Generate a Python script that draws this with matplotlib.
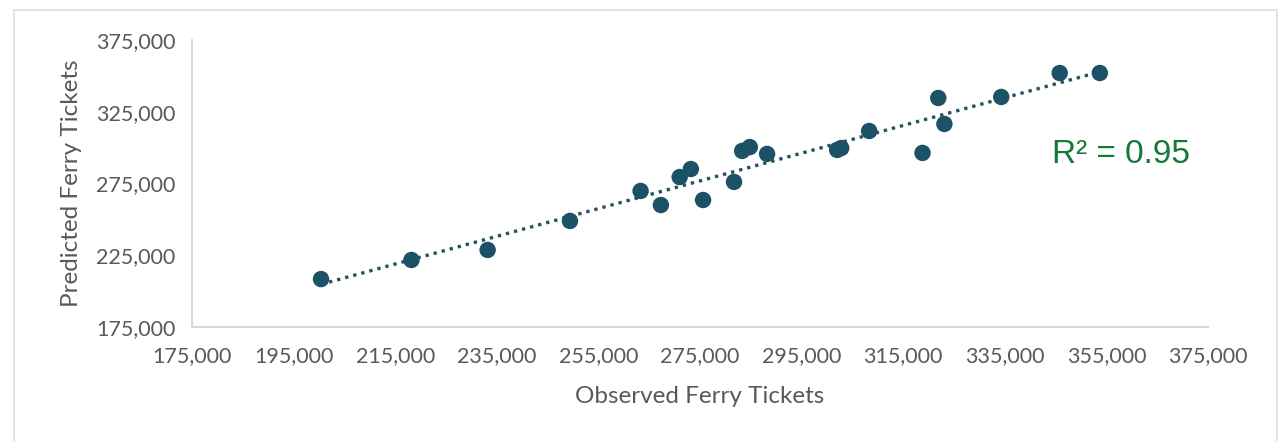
import numpy as np
import matplotlib
matplotlib.use("Agg")
import matplotlib.pyplot as plt
from matplotlib.patches import Rectangle
from matplotlib.ticker import FuncFormatter

# observed vs predicted ferry ticket counts
observed = [200400, 218200, 233200, 249400, 263300, 267300, 271000, 273200,
            275600, 281700, 283300, 284800, 288200, 302000, 302800, 308300,
            318800, 321900, 323100, 334300, 345800, 353700]
predicted = [208400, 221700, 228700, 248900, 269800, 260000, 279500, 285100,
             263500, 276100, 297700, 300400, 295600, 298400, 299700, 311600,
             296300, 334600, 316500, 335300, 352000, 352000]
r_squared = 0.95

x_ticks = list(range(175000, 375001, 20000))
y_ticks = list(range(175000, 375001, 50000))

point_color = "#1b5266"
text_gray = "#595959"
axis_gray = "#d9d9d9"

plt.rcParams["font.family"] = ["Lato", "DejaVu Sans"]

fig = plt.figure(figsize=(12.85, 4.41), dpi=100)
ax = fig.add_axes([0.1494, 0.2585, 0.7907, 0.6508])

# outer chart-area border
fig.patches.append(Rectangle((14 / 1285, -0.05), 1263 / 1285, 1 - 10 / 441 + 0.05,
                             transform=fig.transFigure, fill=False,
                             edgecolor="#e3e3e3", linewidth=1.5))

x = np.array(observed, dtype=float)
y = np.array(predicted, dtype=float)

# linear trendline across the observed range
slope, intercept = np.polyfit(x, y, 1)
xs = np.array([x.min(), x.max()])
ax.plot(xs, slope * xs + intercept, linestyle=(0, (1, 1.5)), color="#29505f",
        linewidth=2.4, zorder=2)

ax.scatter(x, y, s=140, color=point_color, edgecolors="none", zorder=3)

ax.set_xlim(175000, 375000)
ax.set_ylim(175000, 375000)
ax.set_xticks(x_ticks)
ax.set_yticks(y_ticks)
fmt = FuncFormatter(lambda v, _: f"{int(v):,}")
ax.xaxis.set_major_formatter(fmt)
ax.yaxis.set_major_formatter(fmt)
ax.tick_params(length=0, labelsize=15.5, colors=text_gray)
ax.tick_params(axis="x", pad=14)
ax.tick_params(axis="y", pad=12)

for side in ("top", "right"):
    ax.spines[side].set_visible(False)
for side in ("left", "bottom"):
    ax.spines[side].set_color(axis_gray)
    ax.spines[side].set_linewidth(1.5)

ax.set_xlabel("Observed Ferry Tickets", fontsize=17.5, color=text_gray, labelpad=14)
ax.set_ylabel("Predicted Ferry Tickets", fontsize=17.5, color=text_gray, labelpad=10)

ax.text(1052 / 1285, 1 - 163 / 441, f"R\u00b2 = {r_squared:.2f}",
        transform=fig.transFigure, fontsize=24, color="#127a36",
        family=["Liberation Sans", "DejaVu Sans"], ha="left", va="baseline")

fig.savefig("out.png", dpi=100, facecolor="white")
